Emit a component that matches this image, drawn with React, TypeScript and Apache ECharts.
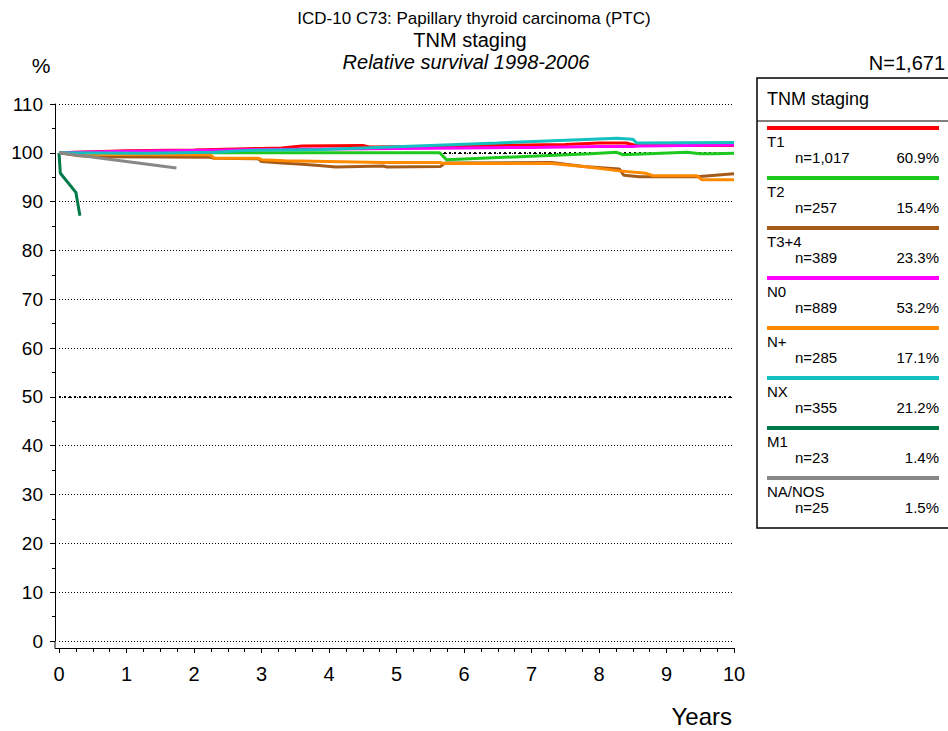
import React, { useEffect, useRef } from "react";
import * as echarts from "echarts";

const FONT = "'Liberation Sans', Arial, sans-serif";

// ---- data ----
const groupNames = ["T1", "T2", "T3+4", "N0", "N+", "NX", "M1", "NA/NOS"];
const groupCounts = ["n=1,017", "n=257", "n=389", "n=889", "n=285", "n=355", "n=23", "n=25"];
const groupShares = ["60.9%", "15.4%", "23.3%", "53.2%", "17.1%", "21.2%", "1.4%", "1.5%"];

const xTicks = [0, 1, 2, 3, 4, 5, 6, 7, 8, 9, 10];
const yTicks = [0, 10, 20, 30, 40, 50, 60, 70, 80, 90, 100, 110];

const t1Values: number[][] = [[0, 100], [0.5, 100.2], [1, 100.4], [2, 100.6], [3, 100.9], [3.3, 101.0], [3.6, 101.4], [4.5, 101.5], [4.6, 101.2], [5.5, 101.3], [6.5, 101.5], [7.5, 101.7], [8.0, 102.0], [8.4, 102.0], [8.55, 101.5], [10, 101.5]];
const t2Values: number[][] = [[0, 100], [5.64, 100], [5.74, 98.6], [7.0, 99.3], [7.87, 99.8], [8.26, 100.1], [8.36, 99.6], [9.3, 100.1], [9.5, 99.8], [9.7, 99.8], [10, 99.9]];
const t34Values: number[][] = [[0, 100], [0.3, 99.4], [0.6, 99.2], [2.24, 99.1], [2.3, 98.9], [2.95, 98.8], [3.0, 98.2], [3.3, 97.9], [3.55, 97.7], [3.85, 97.4], [4.1, 97.1], [4.8, 97.3], [4.86, 97.1], [5.65, 97.2], [5.72, 97.9], [7.3, 98.0], [7.77, 97.2], [8.3, 96.7], [8.37, 95.4], [8.6, 95.1], [9.45, 95.1], [10, 95.7]];
const n0Values: number[][] = [[0, 100], [1, 100.3], [2, 100.5], [3, 100.7], [4, 100.8], [5, 100.9], [6, 101.0], [7, 101.1], [8, 101.3], [8.5, 101.3], [8.6, 101.4], [10, 101.6]];
const nPlusValues: number[][] = [[0, 100], [0.3, 99.7], [2.24, 99.6], [2.3, 98.9], [2.95, 98.9], [3.0, 98.6], [3.35, 98.4], [4.8, 98.0], [5.64, 98.0], [5.7, 97.8], [7.3, 97.8], [7.77, 97.2], [8.3, 96.3], [8.7, 95.8], [8.8, 95.3], [9.45, 95.3], [9.52, 94.5], [10, 94.5]];
const nxValues: number[][] = [[0, 100], [1.3, 99.9], [2.3, 100.1], [2.8, 100.5], [3.9, 100.7], [5.5, 101.5], [6.5, 102.0], [7.7, 102.7], [8.27, 103.0], [8.5, 102.8], [8.56, 102.0], [10, 102.1]];
const m1Values: number[][] = [[0, 100], [0.02, 95.8], [0.25, 91.9], [0.31, 87.1]];
const naValues: number[][] = [[0, 100], [1.74, 96.9]];

const groupValues = [t1Values, t2Values, t34Values, n0Values, nPlusValues, nxValues, m1Values, naValues];

// ---- styles ----
const groupColors = ["#ff0000", "#1ec81e", "#a65a1a", "#ff00ff", "#ff8a00", "#14c0c0", "#007a48", "#888888"];

export default function App() {
  const ref = useRef<HTMLDivElement>(null);

  useEffect(() => {
    if (!ref.current) return;
    const chart = echarts.init(ref.current, null, { renderer: "svg" });

    const series: any[] = groupNames.map((name, i) => ({
      name,
      type: "line",
      data: groupValues[i],
      showSymbol: false,
      symbol: "none",
      lineStyle: { color: groupColors[i], width: 3 },
      itemStyle: { color: groupColors[i] },
      z: 3 + i,
    }));
    series[0].markLine = {
      silent: true,
      symbol: ["none", "none"],
      label: { show: false },
      lineStyle: { color: "#000", width: 2, type: [2, 3] },
      data: [{ yAxis: 50 }, { yAxis: 100 }],
      z: 1,
    };

    // legend box built from arrays
    const legendEls: any[] = [];
    const lx = 767;
    const ly0 = 128;
    const step = 50;
    legendEls.push({
      type: "rect",
      shape: { x: 757, y: 78, width: 220, height: 450 },
      style: { fill: "#fff", stroke: "#000", lineWidth: 1.5 },
      z: 10,
    });
    legendEls.push({
      type: "text",
      x: lx,
      y: 99,
      style: { text: "TNM staging", fontSize: 18, fontFamily: FONT, fill: "#000", align: "left", verticalAlign: "middle" },
      z: 11,
    });
    legendEls.push({
      type: "line",
      shape: { x1: 757, y1: 121, x2: 948, y2: 121 },
      style: { stroke: "#000", lineWidth: 1 },
      z: 11,
    });
    groupNames.forEach((name, i) => {
      const y = ly0 + i * step;
      legendEls.push({
        type: "line",
        shape: { x1: lx, y1: y, x2: 939, y2: y },
        style: { stroke: groupColors[i], lineWidth: 4 },
        z: 11,
      });
      legendEls.push({
        type: "text",
        x: lx,
        y: y + 13,
        style: { text: name, fontSize: 15, fontFamily: FONT, fill: "#000", align: "left", verticalAlign: "middle" },
        z: 11,
      });
      legendEls.push({
        type: "text",
        x: 795,
        y: y + 29.5,
        style: { text: groupCounts[i], fontSize: 15, fontFamily: FONT, fill: "#000", align: "left", verticalAlign: "middle" },
        z: 11,
      });
      legendEls.push({
        type: "text",
        x: 939,
        y: y + 29.5,
        style: { text: groupShares[i], fontSize: 15, fontFamily: FONT, fill: "#000", align: "right", verticalAlign: "middle" },
        z: 11,
      });
    });

    const option: any = {
      animation: false,
      backgroundColor: "#fff",
      grid: { left: 59, right: 214, top: 104, bottom: 90, containLabel: false },
      xAxis: {
        type: "value",
        min: xTicks[0],
        max: xTicks[xTicks.length - 1],
        interval: 1,
        offset: 7,
        axisLine: { show: true, onZero: false, lineStyle: { color: "#000", width: 1 } },
        axisTick: { show: true, length: 5, lineStyle: { color: "#000" } },
        minorTick: { show: true, splitNumber: 4, length: 4, lineStyle: { color: "#000" } },
        axisLabel: { fontSize: 20, color: "#000", fontFamily: FONT, margin: 16 },
        splitLine: { show: false },
      },
      yAxis: {
        type: "value",
        min: yTicks[0],
        max: yTicks[yTicks.length - 1],
        interval: 10,
        offset: 4,
        axisLine: { show: true, onZero: false, lineStyle: { color: "#000", width: 1 } },
        axisTick: { show: true, length: 5, lineStyle: { color: "#000" } },
        minorTick: { show: true, splitNumber: 2, length: 3, lineStyle: { color: "#000" } },
        axisLabel: { fontSize: 19, color: "#000", fontFamily: FONT, margin: 12 },
        splitLine: { show: true, lineStyle: { color: "#000", width: 1, type: [1, 2] } },
      },
      series,
      graphic: [
        {
          type: "text",
          x: 474,
          y: 18,
          style: { text: "ICD-10 C73: Papillary thyroid carcinoma (PTC)", fontSize: 17, fontFamily: FONT, fill: "#000", align: "center", verticalAlign: "middle" },
        },
        {
          type: "text",
          x: 470,
          y: 40,
          style: { text: "TNM staging", fontSize: 20, fontFamily: FONT, fill: "#000", align: "center", verticalAlign: "middle" },
        },
        {
          type: "text",
          x: 466,
          y: 62,
          style: { text: "Relative survival 1998-2006", fontSize: 20, fontStyle: "italic", fontFamily: FONT, fill: "#000", align: "center", verticalAlign: "middle" },
        },
        {
          type: "text",
          x: 41,
          y: 65,
          style: { text: "%", fontSize: 21, fontFamily: FONT, fill: "#000", align: "center", verticalAlign: "middle" },
        },
        {
          type: "text",
          x: 945,
          y: 63,
          style: { text: "N=1,671", fontSize: 20, fontFamily: FONT, fill: "#000", align: "right", verticalAlign: "middle" },
        },
        {
          type: "text",
          x: 732,
          y: 716,
          style: { text: "Years", fontSize: 24, fontFamily: FONT, fill: "#000", align: "right", verticalAlign: "middle" },
        },
        {
          type: "line",
          shape: { x1: 55, y1: 641, x2: 55, y2: 648.5 },
          style: { stroke: "#000", lineWidth: 1 },
        },
        {
          type: "line",
          shape: { x1: 55, y1: 648.5, x2: 59, y2: 648.5 },
          style: { stroke: "#000", lineWidth: 1 },
        },
        ...legendEls,
      ],
    };

    chart.setOption(option);
    return () => chart.dispose();
  }, []);

  return (
    <div
      ref={ref}
      style={{ position: "absolute", left: 0, top: 0, width: 948, height: 731, background: "#fff" }}
    />
  );
}
